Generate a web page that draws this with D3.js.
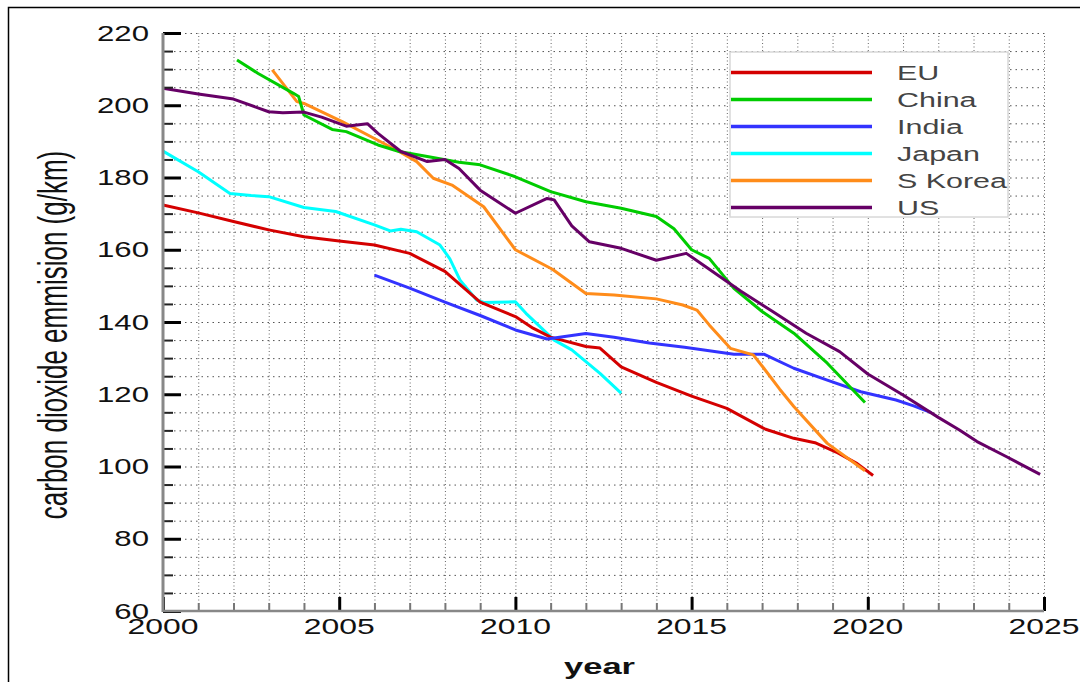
<!DOCTYPE html>
<html>
<head>
<meta charset="utf-8">
<script src="https://cdn.jsdelivr.net/npm/d3@7"></script>
<style>
  body { margin: 0; background: #fff; }
  svg { display: block; font-family: "Liberation Sans", Arial, sans-serif; }
</style>
</head>
<body>
<svg id="canvas" width="1081" height="682"></svg>
<script>
// values
const euYears = [2000, 2001, 2002, 2003, 2004, 2005, 2006, 2007, 2008, 2009, 2010, 2010.5, 2011, 2012, 2012.4, 2013, 2014, 2015, 2016, 2017.1, 2017.9, 2018.5, 2019.1, 2019.7, 2020.15]
const euValues = [172.4, 170.2, 167.8, 165.5, 163.6, 162.4, 161.3, 159, 154, 145.5, 141.5, 138.3, 135.8, 133.2, 132.8, 127.6, 123.3, 119.5, 116.1, 110.3, 107.8, 106.6, 104, 100.8, 97.5]

const chinaYears = [2002.1, 2002.7, 2003.7, 2003.85, 2004, 2004.8, 2005.2, 2006.1, 2006.7, 2007.5, 2008.4, 2009, 2010, 2011, 2012, 2013, 2014, 2014.5, 2015, 2015.5, 2016.2, 2017, 2017.9, 2018.85, 2019.92]
const chinaValues = [212.5, 208.8, 203.3, 202.4, 197.3, 193.3, 192.7, 189, 187.2, 185.8, 184.2, 183.5, 180.2, 176.1, 173.3, 171.5, 169.2, 165.8, 160, 157.6, 149.3, 142.9, 136.9, 128.6, 117.7]

const indiaYears = [2006, 2007, 2008, 2009, 2010, 2010.9, 2012, 2012.8, 2013.8, 2014.8, 2016.2, 2017.05, 2017.9, 2018.85, 2019.8, 2020.8, 2021.3, 2021.8]
const indiaValues = [153, 149.4, 145.5, 141.8, 137.8, 135.3, 136.8, 135.8, 134.2, 133, 131.1, 131.1, 127.2, 123.9, 120.7, 118.4, 116.8, 114.9]

const japanYears = [2000, 2001, 2001.9, 2002.5, 2003, 2004, 2004.9, 2006, 2006.45, 2006.75, 2007.2, 2007.86, 2008.14, 2008.43, 2008.9, 2009.1, 2010, 2010.3, 2011.1, 2011.6, 2012.4, 2013]
const japanValues = [187.3, 181.6, 175.6, 175, 174.7, 171.7, 170.6, 166.9, 165.2, 165.7, 165, 161.3, 157.5, 151.6, 146.1, 145.4, 145.6, 142.4, 135, 132.3, 125.8, 120.3]

const koreaYears = [2003.1, 2003.8, 2004, 2005.1, 2006, 2006.7, 2007.2, 2007.67, 2008.2, 2009.1, 2010, 2011.05, 2012, 2012.8, 2014, 2014.75, 2015.15, 2015.5, 2016.1, 2016.75, 2017.05, 2017.5, 2017.9, 2018.85, 2019.92]
const koreaValues = [209.8, 201, 200.5, 195.4, 190.8, 187.2, 184.4, 179.8, 177.9, 171.9, 160, 154.6, 147.9, 147.5, 146.4, 144.7, 143.3, 139.2, 132.7, 130.9, 127.2, 121.4, 116.6, 106.4, 98.8]

const usYears = [2000, 2001, 2002, 2003, 2003.4, 2004, 2004.5, 2005.2, 2005.8, 2006.1, 2006.75, 2007.5, 2008, 2008.4, 2009, 2010, 2010.9, 2011.1, 2011.6, 2012.1, 2013, 2014, 2014.85, 2015.4, 2016.4, 2017.3, 2018.25, 2019.2, 2020, 2021, 2022, 2022.6, 2023.1, 2023.94, 2024.89]
const usValues = [204.7, 203.1, 201.7, 198.2, 197.9, 198.1, 196.7, 194.2, 194.9, 192.2, 187.2, 184.4, 185, 182.5, 176.5, 170.1, 174.2, 173.8, 166.6, 162.2, 160.4, 157.1, 159, 155.3, 148.5, 142.9, 136.9, 131.8, 125.6, 119.8, 113.6, 110.1, 106.9, 102.7, 97.8]

const seriesNames = ['EU', 'China', 'India', 'Japan', 'S Korea', 'US']
const colors = ['#d40000', '#00cc00', '#3333ff', '#00ffff', '#ff8c1a', '#660066']

const yTicks = [60, 80, 100, 120, 140, 160, 180, 200, 220]
const yMinorTicks = [65, 70, 75, 85, 90, 95, 105, 110, 115, 125, 130, 135, 145, 150, 155, 165, 170, 175, 185, 190, 195, 205, 210, 215]
const xTicks = [2000, 2005, 2010, 2015, 2020, 2025]
const xMinorTicks = [2001, 2002, 2003, 2004, 2006, 2007, 2008, 2009, 2011, 2012, 2013, 2014, 2016, 2017, 2018, 2019, 2021, 2022, 2023, 2024]

const canvas = d3.select('#canvas')
const stretch = 1.45   // the picture's text is wider than the font

const plotLeft = 163
const plotRight = 1044
const plotTop = 33
const plotBottom = 611

const x = d3.scaleLinear().domain([2000, 2025]).range([plotLeft, plotRight])
const y = d3.scaleLinear().domain([60, 220]).range([plotBottom, plotTop])

// outer frame
canvas.append('path')
      .attr('d', `M8.5,682 L8.5,7.5 L1080,7.5`)
      .attr('fill', 'none')
      .attr('stroke', '#000')
      .attr('stroke-width', 1.5)

// grid
const grid = canvas.append('g')
grid.append('g')
    .attr('transform', `translate(0,${plotBottom})`)
    .call(d3.axisBottom(x).tickValues(xTicks.concat(xMinorTicks)).tickSize(-(plotBottom - plotTop)).tickFormat(''))
    .call(g => g.select('.domain').remove())
    .selectAll('line')
    .attr('stroke', '#666')
    .attr('stroke-dasharray', '1,2.5')
grid.append('g')
    .attr('transform', `translate(${plotLeft},0)`)
    .call(d3.axisLeft(y).tickValues(yTicks.concat(yMinorTicks)).tickSize(-(plotRight - plotLeft)).tickFormat(''))
    .call(g => g.select('.domain').remove())
    .selectAll('line')
    .attr('stroke', '#555')
    .attr('stroke-dasharray', '1.5,4')

// lines
const series = [
  [euYears, euValues], [chinaYears, chinaValues], [indiaYears, indiaValues],
  [japanYears, japanValues], [koreaYears, koreaValues], [usYears, usValues]
]
const line = d3.line().x(d => x(d[0])).y(d => y(d[1]))

// drawn in an order close to the picture's overlaps
const drawOrder = [3, 0, 2, 4, 1, 5]
drawOrder.forEach(i => {
  const pts = d3.zip(series[i][0], series[i][1])
  canvas.append('path')
        .datum(pts)
        .attr('d', line)
        .attr('fill', 'none')
        .attr('stroke', colors[i])
        .attr('stroke-width', 3)
        .attr('stroke-linejoin', 'round')
})

// legend
const legend = canvas.append('g')
legend.append('rect')
      .attr('x', 730)
      .attr('y', 52)
      .attr('width', 278)
      .attr('height', 165)
      .attr('fill', '#fff')
      .attr('stroke', '#d8d8d8')
      .attr('stroke-width', 1.5)
const legendRow = d3.scaleLinear().domain([0, 5]).range([72.5, 207.5])
seriesNames.forEach((name, i) => {
  legend.append('line')
        .attr('x1', 731)
        .attr('x2', 872)
        .attr('y1', legendRow(i))
        .attr('y2', legendRow(i))
        .attr('stroke', colors[i])
        .attr('stroke-width', 3.5)
  legend.append('text')
        .attr('transform', `translate(897,${legendRow(i) + 7.5}) scale(${stretch},1)`)
        .attr('font-size', 21)
        .attr('fill', '#444')
        .text(name)
})

// axes
const axisLeft = canvas.append('g').attr('transform', `translate(${plotLeft},0)`)
axisLeft.call(d3.axisRight(y).tickValues(yMinorTicks).tickSize(10).tickFormat(''))
        .call(g => g.select('.domain').remove())
        .selectAll('line').attr('stroke', '#222').attr('stroke-width', 2)
const axisLeftMajor = canvas.append('g').attr('transform', `translate(${plotLeft},0)`)
axisLeftMajor.call(d3.axisRight(y).tickValues(yTicks).tickSize(18).tickFormat(''))
             .call(g => g.select('.domain').remove())
             .selectAll('line').attr('stroke', '#000').attr('stroke-width', 3)

const axisBottom = canvas.append('g').attr('transform', `translate(0,${plotBottom})`)
axisBottom.call(d3.axisTop(x).tickValues(xMinorTicks).tickSize(8).tickFormat(''))
          .call(g => g.select('.domain').remove())
          .selectAll('line').attr('stroke', '#777').attr('stroke-width', 2)
const axisBottomMajor = canvas.append('g').attr('transform', `translate(0,${plotBottom})`)
axisBottomMajor.call(d3.axisTop(x).tickValues(xTicks).tickSize(14).tickFormat(''))
               .call(g => g.select('.domain').remove())
               .selectAll('line').attr('stroke', '#000').attr('stroke-width', 3)

canvas.append('line')
      .attr('x1', plotLeft).attr('x2', plotLeft)
      .attr('y1', plotTop).attr('y2', plotBottom + 1)
      .attr('stroke', '#888').attr('stroke-width', 3)
canvas.append('line')
      .attr('x1', plotLeft).attr('x2', plotRight)
      .attr('y1', plotBottom).attr('y2', plotBottom)
      .attr('stroke', '#888').attr('stroke-width', 2.5)

// tick labels
canvas.append('g')
      .selectAll('text')
      .data(yTicks)
      .enter()
      .append('text')
      .attr('transform', d => `translate(149,${y(d) + 7.5}) scale(${stretch},1)`)
      .attr('text-anchor', 'end')
      .attr('font-size', 21.5)
      .attr('fill', '#111')
      .text(d => d)

canvas.append('g')
      .selectAll('text')
      .data(xTicks)
      .enter()
      .append('text')
      .attr('transform', d => `translate(${x(d)},${634}) scale(${stretch},1)`)
      .attr('text-anchor', 'middle')
      .attr('font-size', 22)
      .attr('fill', '#111')
      .text(d => d)

// axis titles
canvas.append('text')
      .attr('transform', `translate(${plotLeft + (plotRight - plotLeft) / 2 - 4},${674}) scale(1.5,1)`)
      .attr('text-anchor', 'middle')
      .attr('font-size', 23)
      .attr('font-weight', 'bold')
      .attr('fill', '#111')
      .text('year')

canvas.append('text')
      .attr('transform', `translate(67,335) rotate(-90) scale(1,1.55)`)
      .attr('text-anchor', 'middle')
      .attr('font-size', 26)
      .attr('fill', '#111')
      .text('carbon dioxide emmision (g/km)')
</script>
</body>
</html>
